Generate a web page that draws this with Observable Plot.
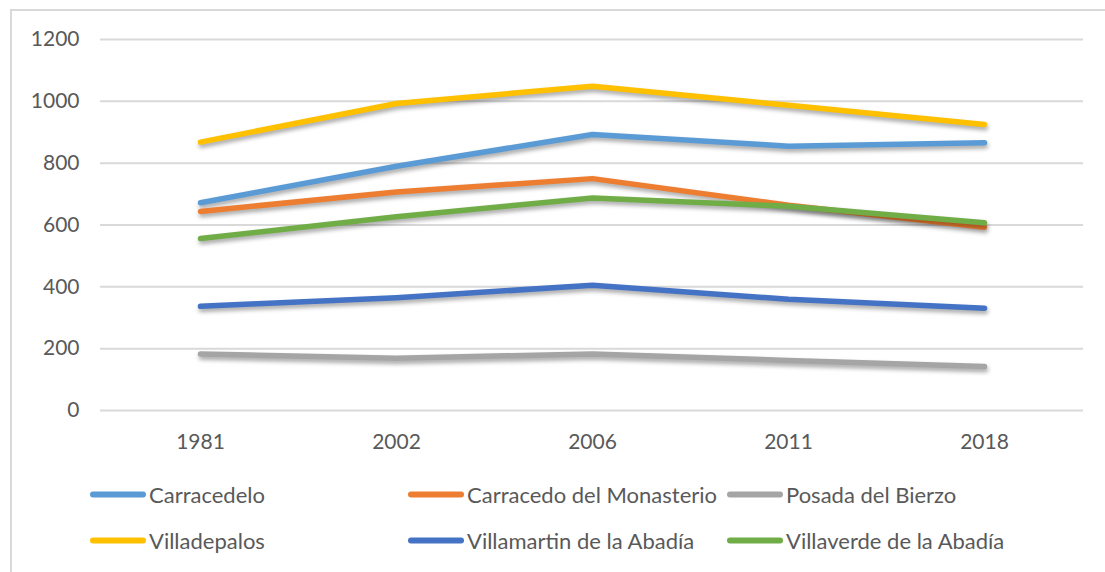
<!DOCTYPE html>
<html>
<head>
<meta charset="utf-8">
<script src="https://cdn.jsdelivr.net/npm/d3@7"></script>
<script src="https://cdn.jsdelivr.net/npm/@observablehq/plot@0.6"></script>
<style>
  html, body { margin: 0; padding: 0; background: #fff; }
  #frame { position: relative; width: 1105px; height: 572px; overflow: hidden; font-family: Lato, "Open Sans", sans-serif; }
  #border { position: absolute; left: 10px; top: 9px; right: -10px; bottom: -10px; border-top: 2px solid #d9d9d9; border-left: 2px solid #d9d9d9; }
  #chart { position: absolute; left: 0; top: 0; }
  #chart g[aria-label="line"] path { filter: drop-shadow(1px 3px 2px rgba(0,0,0,0.35)); }
  .leg { position: absolute; display: flex; align-items: center; color: #595959; font-size: 22px; white-space: nowrap; transform: translateY(-50%); }
  .sw { width: 56px; height: 6px; border-radius: 3px; margin-right: 3px; }
</style>
</head>
<body>
<div id="frame">
  <div id="border"></div>
  <div id="chart"></div>
  <div id="legend"></div>
</div>
<script>
const years = ["1981", "2002", "2006", "2011", "2018"];
const seriesNames = ["Carracedelo", "Carracedo del Monasterio", "Posada del Bierzo", "Villadepalos", "Villamartin de la Abadía", "Villaverde de la Abadía"];
const colors = ["#5B9BD5", "#ED7D31", "#A5A5A5", "#FFC000", "#4472C4", "#70AD47"];
const carracedelo = [672, 790, 893, 855, 866];
const carracedoMonasterio = [644, 707, 750, 664, 593];
const posadaBierzo = [183, 169, 183, 162, 142];
const villadepalos = [868, 993, 1049, 987, 925];
const villamartin = [337, 365, 405, 360, 331];
const villaverde = [556, 627, 687, 661, 607];
const yTicks = [0, 200, 400, 600, 800, 1000, 1200];

const seriesValues = [carracedelo, carracedoMonasterio, posadaBierzo, villadepalos, villamartin, villaverde];
const data = [];
seriesNames.forEach((s, i) => years.forEach((yr, j) => data.push({series: s, year: yr, value: seriesValues[i][j]})));

const chart = Plot.plot({
  width: 1105,
  height: 470,
  marginLeft: 100,
  marginRight: 22,
  marginTop: 39,
  marginBottom: 60,
  style: {fontFamily: "Lato, 'Open Sans', sans-serif", color: "#595959", background: "transparent"},
  x: {type: "point", domain: years, padding: 0.5, label: null},
  y: {domain: [0, 1200], label: null},
  color: {domain: seriesNames, range: colors},
  marks: [
    Plot.gridY(yTicks, {stroke: "#d9d9d9", strokeOpacity: 1, strokeWidth: 2}),
    Plot.axisY(yTicks, {tickSize: 0, tickPadding: 21, fill: "#595959", label: null, fontSize: 21, tickFormat: d => String(d)}),
    Plot.axisX({tickSize: 0, tickPadding: 24, fill: "#595959", label: null, fontSize: 21}),
    Plot.line(data, {x: "year", y: "value", z: "series", stroke: "series", strokeWidth: 5.5, strokeLinecap: "round", strokeLinejoin: "round"})
  ]
});
document.getElementById("chart").appendChild(chart);

const legend = document.getElementById("legend");
const colX = [90, 408, 727];
const rowY = [494, 540];
seriesNames.forEach((s, i) => {
  const el = document.createElement("div");
  el.className = "leg";
  el.style.left = colX[i % 3] + "px";
  el.style.top = rowY[Math.floor(i / 3)] + "px";
  const sw = document.createElement("div");
  sw.className = "sw";
  sw.style.background = colors[i];
  el.appendChild(sw);
  el.appendChild(document.createTextNode(s));
  legend.appendChild(el);
});
</script>
</body>
</html>
